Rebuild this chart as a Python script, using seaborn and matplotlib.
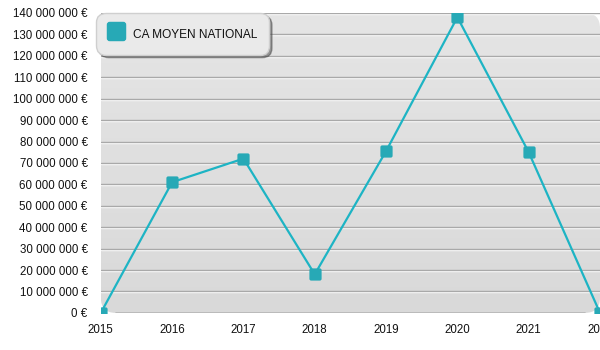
import numpy as np
import pandas as pd
import seaborn as sns
import matplotlib.pyplot as plt
from matplotlib.patches import FancyBboxPatch
from matplotlib.lines import Line2D
from matplotlib.path import Path
from matplotlib.colors import LinearSegmentedColormap
from matplotlib.ticker import FuncFormatter, MultipleLocator
import matplotlib.transforms as mtransforms

years = [2015, 2016, 2017, 2018, 2019, 2020, 2021, 2022]
ca_moyen = [0, 61_000_000, 72_000_000, 18_000_000, 75_500_000, 138_000_000, 75_000_000, 0]
series_label = "CA MOYEN NATIONAL"

df = pd.DataFrame({"annee": years, "ca": ca_moyen})

sns.set_theme(style="white")
plt.rcParams["font.family"] = ["Liberation Sans", "DejaVu Sans"]

line_color = "#1db4c4"
marker_color = "#27a9b6"


def rounded_square(r=0.3):
    """Square marker path with rounded corners."""
    a = 1.0
    verts = [(-a + r, -a), (a - r, -a), (a, -a), (a, -a + r),
             (a, a - r), (a, a), (a - r, a),
             (-a + r, a), (-a, a), (-a, a - r),
             (-a, -a + r), (-a, -a), (-a + r, -a), (-a + r, -a)]
    codes = [Path.MOVETO, Path.LINETO, Path.CURVE3, Path.CURVE3,
             Path.LINETO, Path.CURVE3, Path.CURVE3,
             Path.LINETO, Path.CURVE3, Path.CURVE3,
             Path.LINETO, Path.CURVE3, Path.CURVE3, Path.CLOSEPOLY]
    return Path(verts, codes)


rsq = rounded_square()

fig = plt.figure(figsize=(6.0, 3.5), dpi=100)
ax = fig.add_axes([0.168, 0.106, 0.832, 0.857])
ax.patch.set_visible(False)

ax.set_xlim(2015, 2022)
ax.set_ylim(0, 140_000_000)

# rounded panel with a soft vertical gradient
panel = FancyBboxPatch((0, 0), 1, 1, boxstyle="round,pad=0,rounding_size=0.03",
                       transform=ax.transAxes, facecolor="none", edgecolor="none",
                       mutation_aspect=1.7, zorder=0)
ax.add_patch(panel)
grad = np.linspace(0, 1, 256).reshape(-1, 1)
img = ax.imshow(grad, cmap=LinearSegmentedColormap.from_list("bg", ["#d9d9d9", "#e5e5e5"]),
                aspect="auto", extent=[2015, 2022, 0, 140_000_000],
                origin="lower", zorder=0)
img.set_clip_path(panel)

# grid lines with a light highlight just below
ytrans = ax.get_yaxis_transform()
shift = mtransforms.ScaledTranslation(0, -1 / 100, fig.dpi_scale_trans)
for v in range(10_000_000, 140_000_001, 10_000_000):
    ax.plot([0, 1], [v, v], color="#ffffff", lw=1.0, zorder=1, transform=ytrans + shift)
    ax.plot([0, 1], [v, v], color="#a9a9a9", lw=1.0, zorder=1.5, transform=ytrans)
ax.plot([0.03, 0.97], [0, 0], color="#b5b5b5", lw=1.2, zorder=1.5, transform=ytrans)

sns.lineplot(data=df, x="annee", y="ca", ax=ax, color=line_color, lw=1.6,
             marker=rsq, markersize=8.8, markerfacecolor=marker_color,
             markeredgecolor=marker_color, markeredgewidth=0, zorder=3, legend=False)

ax.set_xlim(2015, 2022)
ax.set_ylim(0, 140_000_000)

for s in ax.spines.values():
    s.set_visible(False)

ax.xaxis.set_major_locator(MultipleLocator(1))
ax.xaxis.set_major_formatter(FuncFormatter(lambda v, p: f"{int(round(v))}"))
ax.yaxis.set_major_locator(MultipleLocator(10_000_000))
ax.yaxis.set_major_formatter(FuncFormatter(lambda v, p: f"{int(v):,}".replace(",", " ") + " €"))
ax.tick_params(axis="both", length=0, labelsize=8.3, colors="#111111")
ax.tick_params(axis="y", pad=9.5)
ax.tick_params(axis="x", pad=8)
ax.set_xlabel("")
ax.set_ylabel("")

handle = Line2D([], [], marker=rsq, linestyle="none", markersize=14,
                markerfacecolor=marker_color, markeredgewidth=0)
leg = ax.legend([handle], [series_label], loc="upper left",
                bbox_to_anchor=(-0.016, 1.012), frameon=True, fancybox=True,
                shadow=True, facecolor="#eaeaea", edgecolor="#cfcfcf",
                fontsize=8.6, borderpad=0.75, handlelength=1.3, handleheight=2.1,
                handletextpad=0.85, labelcolor="#111111")
leg.get_frame().set_boxstyle("round,pad=0.2,rounding_size=0.8")
leg.set_zorder(5)

fig.savefig("out.png", dpi=100, facecolor="white")
